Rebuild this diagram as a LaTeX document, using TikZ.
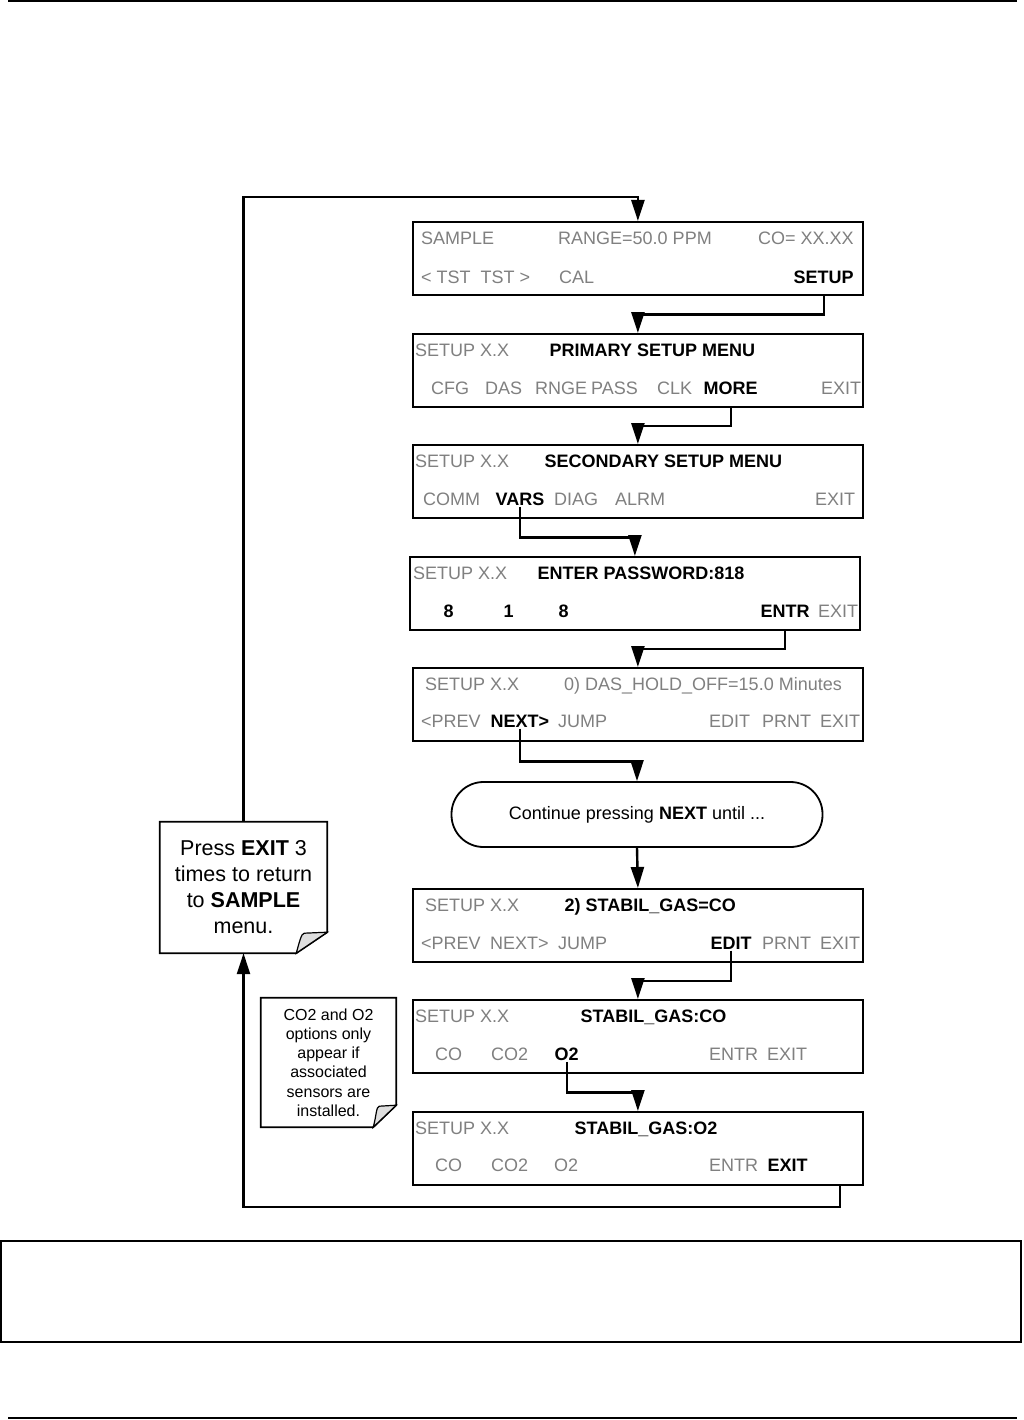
\documentclass[tikz,border=0pt]{standalone}
\usepackage{fontspec}
\setmainfont{Liberation Sans}
\usetikzlibrary{arrows.meta,shadows,calc}
\definecolor{lcdgray}{gray}{0.5}
\newcommand{\lcdfont}{\fontsize{18}{21}\selectfont}

\begin{document}
\begin{tikzpicture}[x=1pt,y=-1pt,
	screen/.style={draw, line width=1.8pt, fill=white, anchor=north west, inner sep=0pt,
		minimum width=450pt, minimum height=73pt,
		general shadow={fill=black, shadow xshift=1.4pt, shadow yshift=-1.4pt}},
	dim/.style={anchor=base west, inner sep=1pt, text=lcdgray, font=\lcdfont},
	key/.style={anchor=base west, inner sep=1.5pt, text=black, font=\lcdfont\bfseries},
	note/.style={align=center, inner sep=0pt},
	flow/.style={line width=2.4pt, -{Triangle[length=21pt,width=13pt]}},
	rule/.style={line width=1.6pt}
]
	\useasboundingbox (0,0) rectangle (1023,1420);

	% page rules and empty caption frame
	\draw[rule] (8,1) -- (1017,1);
	\draw[rule] (1,1241) rectangle (1021,1342);
	\draw[rule] (8,1418) -- (1017,1418);

	% SAMPLE
	\node[screen] (s1) at (412,221) {};
	\node[dim] (s1a) at (420,245) {SAMPLE};
	\node[dim] (s1b) at (557,245) {RANGE=50.0 PPM};
	\node[dim] (s1c) at (757,245) {CO= XX.XX};
	\node[dim] (s1d) at (420,284) {< TST\ \ TST >};
	\node[dim] (s1e) at (558,284) {CAL};
	\node[key] (kSetup) at (792,284) {SETUP};

	% primary setup menu
	\node[screen] (s2) at (412,333) {};
	\node[dim] (s2a) at (414,356) {SETUP X.X};
	\node[key] (s2b) at (548,356) {PRIMARY SETUP MENU};
	\node[dim] (s2c) at (430,394) {CFG};
	\node[dim] (s2d) at (484,394) {DAS};
	\node[dim] (s2e) at (534,394) {RNGE};
	\node[dim] (s2f) at (590,394) {PASS};
	\node[dim] (s2g) at (656,394) {CLK};
	\node[key] (kMore) at (702,394) {MORE};
	\node[dim] (s2h) at (820,394) {EXIT};

	% secondary setup menu
	\node[screen] (s3) at (412,444) {};
	\node[dim] (s3a) at (414,467) {SETUP X.X};
	\node[key] (s3b) at (543,467) {SECONDARY SETUP MENU};
	\node[dim] (s3c) at (422,505) {COMM};
	\node[key] (kVars) at (494,505) {VARS};
	\node[dim] (s3d) at (553,505) {DIAG};
	\node[dim] (s3e) at (614,505) {ALRM};
	\node[dim] (s3f) at (814,505) {EXIT};

	% password
	\node[screen] (s4) at (409,556) {};
	\node[dim] (s4a) at (412,579) {SETUP X.X};
	\node[key] (s4b) at (536,579) {ENTER PASSWORD:818};
	\node[key] (s4c) at (442,617) {8};
	\node[key] (s4d) at (502,617) {1};
	\node[key] (s4e) at (557,617) {8};
	\node[key] (kEntr) at (759,617) {ENTR};
	\node[dim] (s4f) at (817,617) {EXIT};

	% first variable
	\node[screen] (s5) at (412,667) {};
	\node[dim] (s5a) at (424,690) {SETUP X.X};
	\node[dim] (s5b) at (563,690) {0) DAS\_HOLD\_OFF=15.0 Minutes};
	\node[dim] (s5c) at (420,727) {<PREV};
	\node[key] (kNext) at (489,727) {NEXT>};
	\node[dim] (s5d) at (557,727) {JUMP};
	\node[dim] (s5e) at (708,727) {EDIT};
	\node[dim] (s5f) at (761,727) {PRNT};
	\node[dim] (s5g) at (819,727) {EXIT};

	\node[draw, line width=1.8pt, rounded corners=32pt, minimum width=371pt, minimum height=65pt,
		font=\lcdfont] (cont) at (637,814.5) {Continue pressing \textbf{NEXT} until ...};

	% stabil gas
	\node[screen] (s7) at (412,888) {};
	\node[dim] (s7a) at (424,911) {SETUP X.X};
	\node[key] (s7b) at (563,911) {2) STABIL\_GAS=CO};
	\node[dim] (s7c) at (420,949) {<PREV};
	\node[dim] (s7d) at (489,949) {NEXT>};
	\node[dim] (s7e) at (557,949) {JUMP};
	\node[key] (kEdit) at (709,949) {EDIT};
	\node[dim] (s7f) at (761,949) {PRNT};
	\node[dim] (s7g) at (819,949) {EXIT};

	\node[screen] (s8) at (412,999) {};
	\node[dim] (s8a) at (414,1022) {SETUP X.X};
	\node[key] (s8b) at (579,1022) {STABIL\_GAS:CO};
	\node[dim] (s8c) at (434,1060) {CO};
	\node[dim] (s8d) at (490,1060) {CO2};
	\node[key] (kO2) at (553,1060) {O2};
	\node[dim] (s8e) at (708,1060) {ENTR};
	\node[dim] (s8f) at (766,1060) {EXIT};

	\node[screen] (s9) at (412,1111) {};
	\node[dim] (s9a) at (414,1134) {SETUP X.X};
	\node[key] (s9b) at (573,1134) {STABIL\_GAS:O2};
	\node[dim] (s9c) at (434,1171) {CO};
	\node[dim] (s9d) at (490,1171) {CO2};
	\node[dim] (s9e) at (553,1171) {O2};
	\node[dim] (s9f) at (708,1171) {ENTR};
	\node[key] (kExit) at (766,1171) {EXIT};

	% notes
	\node[note, minimum width=167pt, minimum height=131pt, font=\fontsize{21.5}{26}\selectfont]
		(back) at (243.5,887.5) {Press \textbf{EXIT} 3\\times to return\\to \textbf{SAMPLE}\\menu.};
	\node[note, minimum width=135pt, minimum height=129pt, font=\fontsize{16}{19.2}\selectfont]
		(opts) at (328.5,1062.5) {CO2 and O2\\options only\\appear if\\associated\\sensors are\\installed.};
	\foreach \n/\fx/\fy/\ix in {back/31/21/23, opts/23/22/17} {
		\draw[line width=1.8pt] (\n.north west) -- (\n.north east) -- ([yshift=\fy pt]\n.south east)
			-- ([xshift=-\fx pt]\n.south east) -- (\n.south west) -- cycle;
		\draw[line width=1.2pt, fill=gray!25] ([xshift=-\fx pt]\n.south east)
			.. controls ([xshift=-\fx pt+3pt, yshift=10pt]\n.south east) and ([xshift=-\ix pt-3pt, yshift=\fy pt-1pt]\n.south east)
			.. ([xshift=-\ix pt, yshift=\fy pt-1pt]\n.south east) -- ([yshift=\fy pt]\n.south east) -- cycle;
	}

	% connectors
	\coordinate (ret) at (840,1207);
	\draw[flow] (back.north) |- ([yshift=24pt]s1.north) -- (s1.north);
	\draw[flow] (kSetup |- s1.south) |- ($(s1.south)!.5!(s2.north)$) -| (s2.north);
	\draw[flow] (kMore |- s2.south) |- ($(s2.south)!.5!(s3.north)$) -| (s3.north);
	\draw[flow] (kVars.south) |- ($(s3.south)!.5!(s4.north)$) -| (s4.north);
	\draw[flow] (kEntr |- s4.south) |- ($(s4.south)!.5!(s5.north)$) -| (s5.north);
	\draw[flow] (kNext.south) |- ($(s5.south)!.5!(cont.north)$) -| (cont.north);
	\draw[flow] (cont.south) -- (s7.north);
	\draw[flow] (kEdit.south) |- ($(s7.south)!.5!(s8.north)$) -| (s8.north);
	\draw[flow] (kO2.south) |- ($(s8.south)!.5!(s9.north)$) -| (s9.north);
	\draw[flow] (s9.south -| ret) -- (ret) -| (back.south);
\end{tikzpicture}
\end{document}
